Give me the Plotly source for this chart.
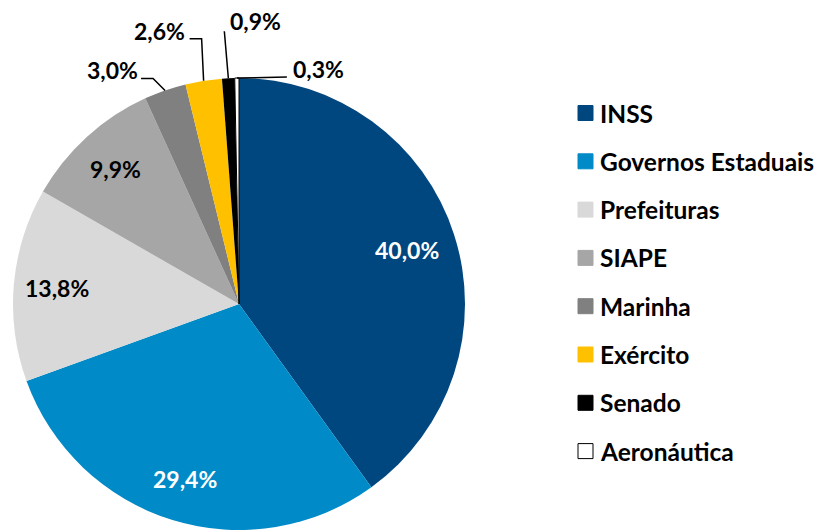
import math
import plotly.graph_objects as go

categories = ["INSS", "Governos Estaduais", "Prefeituras", "SIAPE",
              "Marinha", "Exército", "Senado", "Aeronáutica"]
values = [40.0, 29.4, 13.8, 9.9, 3.0, 2.6, 0.9, 0.3]
colors = ["#00467F", "#008AC7", "#D9D9D9", "#A6A6A6",
          "#808080", "#FFC000", "#000000", "#FFFFFF"]
text_colors = ["white", "white", "black", "black", "black", "black", "black", "black"]
inside = [True, True, True, True, False, False, False, False]

W, H = 819, 530
cx, cy, R = 239, 304, 226
FONT = "Lato"
FS = 23
FS_LEG = 24.5

def px(x):
    return x / W

def py(y):
    return 1 - y / H

fig = go.Figure()
fig.add_trace(go.Pie(
    labels=categories, values=values, sort=False, direction="clockwise",
    rotation=0, textinfo="none", hoverinfo="label+percent",
    marker=dict(colors=colors,
                line=dict(color=["#000000"] * len(values),
                          width=[0, 0, 0, 0, 0, 0, 0, 1])),
    domain=dict(x=[px(cx - R), px(cx + R)], y=[py(cy + R), py(cy - R)]),
    showlegend=False,
))

total = sum(values)
cum = 0.0
annotations = []
shapes = []
# leader offsets (relative to slice edge point) for small slices: path points and text anchor
leaders = {
    "Marinha": dict(path=[(-12, -12), (-24, -12)], text=(-25, -20), anchor="right"),
    "Exército": dict(path=[(-2, -42), (-14, -42)], text=(-17, -50), anchor="right"),
    "Senado": dict(path=[(-4, -47)], text=(0, -57), anchor="left"),
    "Aeronáutica": dict(path=[(50, -1)], text=(54, -9), anchor="left"),
}
for cat, v, tc, ins in zip(categories, values, text_colors, inside):
    mid = (cum + v / 2) / total
    cum += v
    ang = 2 * math.pi * mid
    s, c = math.sin(ang), math.cos(ang)
    label = f"{v:.1f}".replace(".", ",") + "%"
    if ins:
        f = 0.78 if cat == "INSS" else 0.81
        x, y = cx + f * R * s, cy - f * R * c
        annotations.append(dict(x=px(x), y=py(y), xref="paper", yref="paper",
                                text=label, showarrow=False,
                                font=dict(family=FONT, size=FS, color=tc, weight="bold"),
                                xanchor="center", yanchor="middle"))
    else:
        ex, ey = cx + R * s, cy - R * c
        spec = leaders[cat]
        pts = [(ex, ey)] + [(ex + dx, ey + dy) for dx, dy in spec["path"]]
        d = "M " + " L ".join(f"{px(a):.5f},{py(b):.5f}" for a, b in pts)
        shapes.append(dict(type="path", path=d, xref="paper", yref="paper",
                           line=dict(color="black", width=1.5)))
        tx, ty = ex + spec["text"][0], ey + spec["text"][1]
        annotations.append(dict(x=px(tx), y=py(ty), xref="paper", yref="paper",
                                text=label, showarrow=False,
                                font=dict(family=FONT, size=FS, color="black", weight="bold"),
                                xanchor=spec["anchor"], yanchor="middle"))

# legend
lx0, ly0, step, sq = 578, 113, 48.3, 15
for i, (cat, col) in enumerate(zip(categories, colors)):
    yy = ly0 + i * step
    shapes.append(dict(type="rect", xref="paper", yref="paper",
                       x0=px(lx0), x1=px(lx0 + sq), y0=py(yy + sq / 2), y1=py(yy - sq / 2),
                       fillcolor=col,
                       line=dict(color="black" if col == "#FFFFFF" else col, width=1)))
    annotations.append(dict(x=px(lx0 + sq + 5), y=py(yy), xref="paper", yref="paper",
                            text=cat, showarrow=False, xanchor="left", yanchor="middle",
                            font=dict(family=FONT, size=FS_LEG, color="black", weight="bold")))

fig.update_layout(width=W, height=H, margin=dict(l=0, r=0, t=0, b=0),
                  paper_bgcolor="white", plot_bgcolor="white",
                  annotations=annotations, shapes=shapes, showlegend=False)
fig.write_html("out.html", config={"displayModeBar": False},
               post_script="document.body.style.margin='0';document.body.style.padding='0';"
                           "document.body.style.overflow='hidden';")
